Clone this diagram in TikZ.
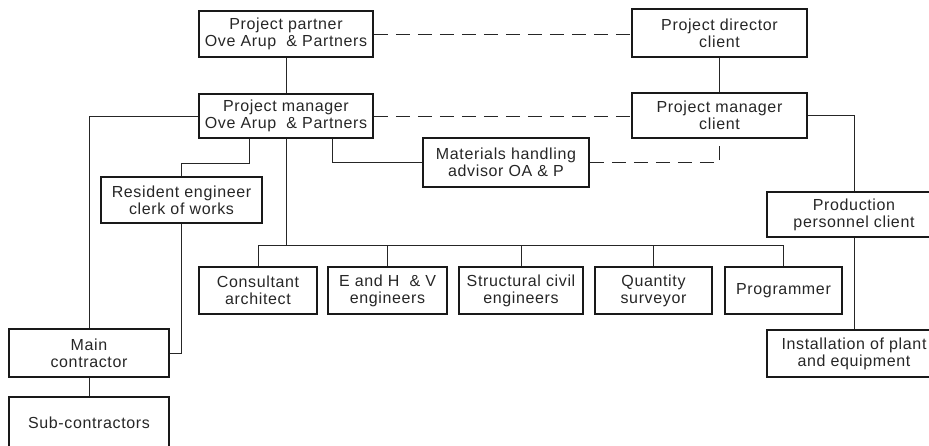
\documentclass[tikz,border=0pt]{standalone}
\usepackage{fontspec}
\setmainfont{Liberation Sans}[LetterSpace=4]
\usetikzlibrary{calc}
\tikzset{
  box/.style={draw=black!90, line width=1.6pt, align=center, inner sep=1pt,
    font=\fontsize{16}{17}\selectfont, text=black!85},
  conn/.style={draw=black!85, line width=0.9pt},
  dconn/.style={conn, dash pattern=on 14pt off 8pt},
}
\begin{document}
\begin{tikzpicture}[x=1pt,y=-1pt]
\useasboundingbox (0,0) rectangle (929,445);
% top row
\node[box, minimum width=174pt, minimum height=46pt] (pp) at (286,34) {Project partner\\Ove Arup \ \& Partners};
\node[box, minimum width=175pt, minimum height=48pt] (pd) at (719.5,33) {Project director\\client};
\node[box, minimum width=174pt, minimum height=44pt] (pm) at (286,116) {Project manager\\Ove Arup \ \& Partners};
\node[box, minimum width=175pt, minimum height=45pt] (pmc) at (719.5,115.5) {Project manager\\client};
\node[box, minimum width=166pt, minimum height=49pt] (mat) at (506,162.5) {Materials handling\\advisor OA \& P};
\node[box, minimum width=161pt, minimum height=46pt] (res) at (181.5,200) {Resident engineer\\clerk of works};
\node[box, minimum width=174pt, minimum height=45pt] (prod) at (854,214.5) {Production\\personnel client};
\node[box, minimum width=174pt, minimum height=47pt] (inst) at (854,353.5) {Installation of plant\\and equipment};
\node[box, minimum width=160pt, minimum height=48pt] (mc) at (89,353) {Main\\contractor};
\node[box, minimum width=160pt, minimum height=52pt] (sub) at (89,423) {Sub-contractors};
% consultants row
\node[box, minimum width=118pt, minimum height=47pt] (cons) at (258,290.5) {Consultant\\architect};
\node[box, minimum width=119pt, minimum height=47pt] (ehv) at (387.5,290.5) {E and H \ \& V\\engineers};
\node[box, minimum width=124pt, minimum height=47pt] (str) at (521,290.5) {Structural civil\\engineers};
\node[box, minimum width=117pt, minimum height=47pt] (qs) at (653.5,290.5) {Quantity\\surveyor};
\node[box, minimum width=117pt, minimum height=47pt] (prog) at (783.5,290.5) {Programmer};
% helper coordinates
\coordinate (bus) at (289,245);
\coordinate (a1) at (249,163);
\coordinate (a2) at (332,163);
\coordinate (a3) at (87,117);
% solid connectors
\draw[conn] (pp.south) -- (pm.north);
\draw[conn] (pd.south) -- (pmc.north);
\draw[conn] (pm.west) -| (mc.north);
\draw[conn] (a1 |- pm.south) -- (a1) -| (res.north);
\draw[conn] (a2 |- pm.south) |- (mat.west);
\draw[conn] (pm.south) -- (pm.south |- bus);
\draw[conn] (cons.north) -- (cons.north |- bus) -- (prog.north |- bus) -- (prog.north);
\draw[conn] (ehv.north) -- (ehv.north |- bus);
\draw[conn] (str.north) -- (str.north |- bus);
\draw[conn] (qs.north) -- (qs.north |- bus);
\draw[conn] (res.south) |- (mc.east);
\draw[conn] (mc.south) -- (sub.north);
\draw[conn] (pmc.east) -| (prod.north);
\draw[conn] (prod.south) -- (inst.north);
% dashed connectors
\draw[dconn] (pp.east) -- (pd.west |- pp.east);
\draw[dconn] (pm.east) -- (pmc.west |- pm.east);
\draw[dconn] (mat.east) -| (pmc.south);
\end{tikzpicture}
\end{document}
